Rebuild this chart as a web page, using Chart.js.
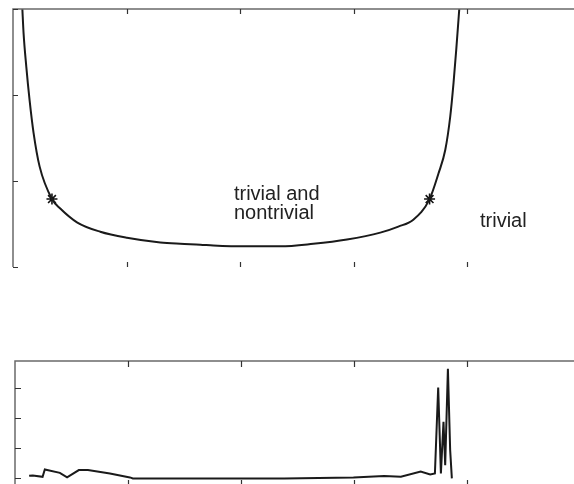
<!DOCTYPE html>
<html>
<head>
<meta charset="utf-8">
<script src="https://cdn.jsdelivr.net/npm/chart.js@4"></script>
<style>
    html, body { margin: 0; padding: 0; background: #fff; overflow: hidden; }
    #wrap { position: relative; width: 574px; height: 484px; overflow: hidden; }
    canvas { position: absolute; left: 0; }
    #topChart { top: 0; }
    #bottomChart { top: 350px; }
</style>
</head>
<body>
<div id="wrap">
    <canvas id="topChart" width="600" height="275"></canvas>
    <canvas id="bottomChart" width="600" height="140"></canvas>
</div>
<script>
// upper panel: the U-shaped boundary curve
const topX = [0.082, 0.093, 0.117, 0.146, 0.181, 0.234, 0.343, 0.416, 0.563, 0.768, 1.003, 1.297, 1.473,
    1.649, 1.763, 2.06, 2.353, 2.643, 2.94, 3.233, 3.392, 3.524, 3.667, 3.746, 3.805, 3.849, 3.878, 3.902, 3.929];
const topY = [3.01, 2.72, 2.33, 1.94, 1.56, 1.17, 0.79, 0.68, 0.52, 0.41, 0.34, 0.285, 0.27,
    0.26, 0.25, 0.24, 0.24, 0.27, 0.32, 0.40, 0.47, 0.55, 0.79, 1.09, 1.36, 1.75, 2.14, 2.53, 3.01];

// the two marked points (asterisks)
const starX = [0.343, 3.667];
const starY = [0.79, 0.79];

// lower panel
const botX = [0.125, 0.158, 0.244, 0.264, 0.397, 0.461, 0.565, 0.645, 0.84, 1.017, 1.043, 2.381, 2.995,
    3.267, 3.415, 3.59, 3.674, 3.716, 3.745, 3.769, 3.792, 3.807, 3.831, 3.851, 3.866];
const botY = [0.086, 0.099, 0.053, 0.297, 0.185, 0.033, 0.274, 0.274, 0.165, 0.033, 0.0, 0.0, 0.033,
    0.076, 0.053, 0.231, 0.132, 0.165, 3.0, 0.165, 1.865, 0.439, 3.62, 0.934, 0.0];

// tick positions (no labels shown)
const xTicks = [1, 2, 3, 4];
const yTicks = [0, 1, 2, 3];

// region labels
const labelLines = ['trivial and', 'nontrivial'];
const labelOther = 'trivial';

function toPoints(xs, ys) {
    return xs.map((x, i) => ({ x: x, y: ys[i] }));
}

// draws the box (left, top, right) and inward tick marks like the original figure
const framePlugin = {
    id: 'frame',
    afterDatasetsDraw(chart, args, opts) {
        const ctx = chart.ctx;
        const a = chart.chartArea;
        const xs = chart.scales.x;
        const ys = chart.scales.y;
        ctx.save();
        ctx.strokeStyle = '#6a6a6a';
        ctx.lineWidth = 1.5;
        ctx.beginPath();
        ctx.moveTo(a.left, a.bottom);
        ctx.lineTo(a.left, a.top);
        ctx.lineTo(a.right, a.top);
        ctx.lineTo(a.right, a.bottom);
        ctx.stroke();

        ctx.strokeStyle = '#333';
        ctx.lineWidth = 1.2;
        const len = opts.tickLen || 5;
        ctx.beginPath();
        xTicks.forEach(v => {
            const px = Math.round(xs.getPixelForValue(v)) + 0.5;
            ctx.moveTo(px, a.top);
            ctx.lineTo(px, a.top + len);
            ctx.moveTo(px, a.bottom);
            ctx.lineTo(px, a.bottom - len);
        });
        yTicks.forEach(v => {
            const py = Math.round(ys.getPixelForValue(v)) + 0.5;
            ctx.moveTo(a.left, py);
            ctx.lineTo(a.left + len, py);
            ctx.moveTo(a.right, py);
            ctx.lineTo(a.right - len, py);
        });
        ctx.stroke();

        if (opts.labels) {
            ctx.fillStyle = '#222';
            ctx.font = '20px "Liberation Sans", Arial, sans-serif';
            ctx.textBaseline = 'alphabetic';
            ctx.fillText(labelLines[0], xs.getPixelForValue(1.945), ys.getPixelForValue(0.779));
            ctx.fillText(labelLines[1], xs.getPixelForValue(1.945), ys.getPixelForValue(0.558));
            ctx.fillText(labelOther, xs.getPixelForValue(4.111), ys.getPixelForValue(0.465));
        }
        ctx.restore();
    }
};

function baseOptions(padding, yMin, yMax, tickLen, labels) {
    return {
        responsive: false,
        animation: false,
        devicePixelRatio: 1,
        layout: { padding: padding },
        plugins: {
            legend: { display: false },
            tooltip: { enabled: false },
            frame: { tickLen: tickLen, labels: labels }
        },
        scales: {
            x: { type: 'linear', min: 0, max: 5, display: false },
            y: { type: 'linear', min: yMin, max: yMax, display: false }
        }
    };
}

new Chart(document.getElementById('topChart'), {
    type: 'line',
    data: {
        datasets: [
            {
                data: toPoints(topX, topY),
                borderColor: '#1a1a1a',
                borderWidth: 2,
                pointRadius: 0,
                cubicInterpolationMode: 'monotone'
            },
            {
                data: toPoints(starX, starY),
                showLine: false,
                pointStyle: 'star',
                pointRadius: 5.5,
                borderColor: '#111',
                borderWidth: 1.6
            }
        ]
    },
    options: baseOptions({ left: 13, top: 9, right: 19, bottom: 8 }, 0, 3, 5, true),
    plugins: [framePlugin]
});

new Chart(document.getElementById('bottomChart'), {
    type: 'line',
    data: {
        datasets: [{
            data: toPoints(botX, botY),
            borderColor: '#1a1a1a',
            borderWidth: 2,
            pointRadius: 0,
            tension: 0
        }]
    },
    options: baseOptions({ left: 15, top: 11, right: 20, bottom: 4 }, -0.25, 3.875, 6, false),
    plugins: [framePlugin]
});
</script>
</body>
</html>
